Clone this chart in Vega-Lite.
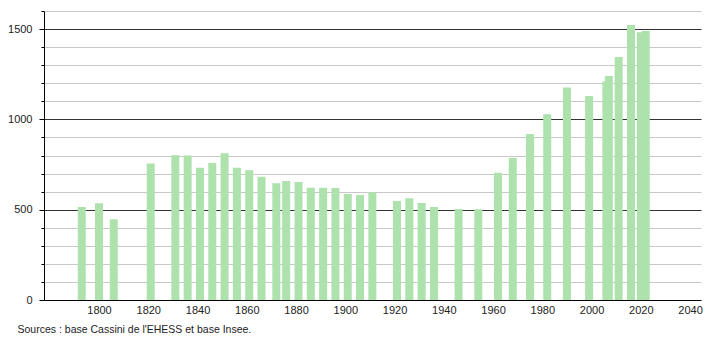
{
  "$schema": "https://vega.github.io/schema/vega-lite/v6.json",
  "autosize": "none",
  "width": 657,
  "height": 289,
  "padding": {"left": 44, "top": 11, "right": 9, "bottom": 40},
  "background": "white",
  "config": {
    "view": {"stroke": null},
    "font": "Liberation Sans"
  },
  "title": {
    "text": "Sources : base Cassini de l'EHESS et base Insee.",
    "orient": "bottom",
    "anchor": "start",
    "dx": 10,
    "offset": 10,
    "fontSize": 10.5,
    "fontWeight": "normal",
    "color": "#222",
    "font": "Liberation Sans"
  },
  "data": {
    "values": [
      {"year": 1793, "pop": 515},
      {"year": 1800, "pop": 535},
      {"year": 1806, "pop": 447},
      {"year": 1821, "pop": 756},
      {"year": 1831, "pop": 802},
      {"year": 1836, "pop": 800},
      {"year": 1841, "pop": 732},
      {"year": 1846, "pop": 758},
      {"year": 1851, "pop": 813},
      {"year": 1856, "pop": 732},
      {"year": 1861, "pop": 719},
      {"year": 1866, "pop": 682},
      {"year": 1872, "pop": 646},
      {"year": 1876, "pop": 659},
      {"year": 1881, "pop": 653},
      {"year": 1886, "pop": 622},
      {"year": 1891, "pop": 622},
      {"year": 1896, "pop": 620},
      {"year": 1901, "pop": 587},
      {"year": 1906, "pop": 581},
      {"year": 1911, "pop": 596},
      {"year": 1921, "pop": 548},
      {"year": 1926, "pop": 564},
      {"year": 1931, "pop": 537},
      {"year": 1936, "pop": 515},
      {"year": 1946, "pop": 504},
      {"year": 1954, "pop": 502},
      {"year": 1962, "pop": 705},
      {"year": 1968, "pop": 786},
      {"year": 1975, "pop": 919},
      {"year": 1982, "pop": 1029},
      {"year": 1990, "pop": 1177},
      {"year": 1999, "pop": 1129},
      {"year": 2006, "pop": 1210},
      {"year": 2007, "pop": 1240},
      {"year": 2011, "pop": 1345},
      {"year": 2016, "pop": 1522},
      {"year": 2020, "pop": 1483},
      {"year": 2022, "pop": 1489}
    ]
  },
  "mark": {"type": "bar", "width": 8, "color": "#ade2ad"},
  "encoding": {
    "x": {
      "field": "year",
      "type": "quantitative",
      "scale": {"domain": [1779.7, 2042.4], "nice": false, "zero": false},
      "axis": {
        "title": null,
        "values": [1800, 1820, 1840, 1860, 1880, 1900, 1920, 1940, 1960, 1980, 2000, 2020, 2040],
        "format": "d",
        "ticks": false,
        "grid": false,
        "domainColor": "#000",
        "domainWidth": 1,
        "labelFontSize": 11,
        "labelColor": "#222",
        "labelPadding": 4,
        "labelFlush": false
      }
    },
    "y": {
      "field": "pop",
      "type": "quantitative",
      "scale": {"domain": [0, 1600], "nice": false},
      "axis": {
        "title": null,
        "values": [0, 100, 200, 300, 400, 500, 600, 700, 800, 900, 1000, 1100, 1200, 1300, 1400, 1500, 1600],
        "labelExpr": "datum.value % 500 === 0 ? datum.label : ''",
        "format": "d",
        "grid": true,
        "gridColor": {"condition": {"test": "datum.value % 500 === 0 && datum.value > 0", "value": "#333"}, "value": "#c8c8c8"},
        "gridWidth": 1,
        "domainColor": "#000",
        "tickColor": "#000",
        "tickSize": {"condition": {"test": "datum.value % 500 === 0", "value": 5}, "value": 3},
        "labelFontSize": 11,
        "labelColor": "#222",
        "labelPadding": 7
      }
    }
  }
}
